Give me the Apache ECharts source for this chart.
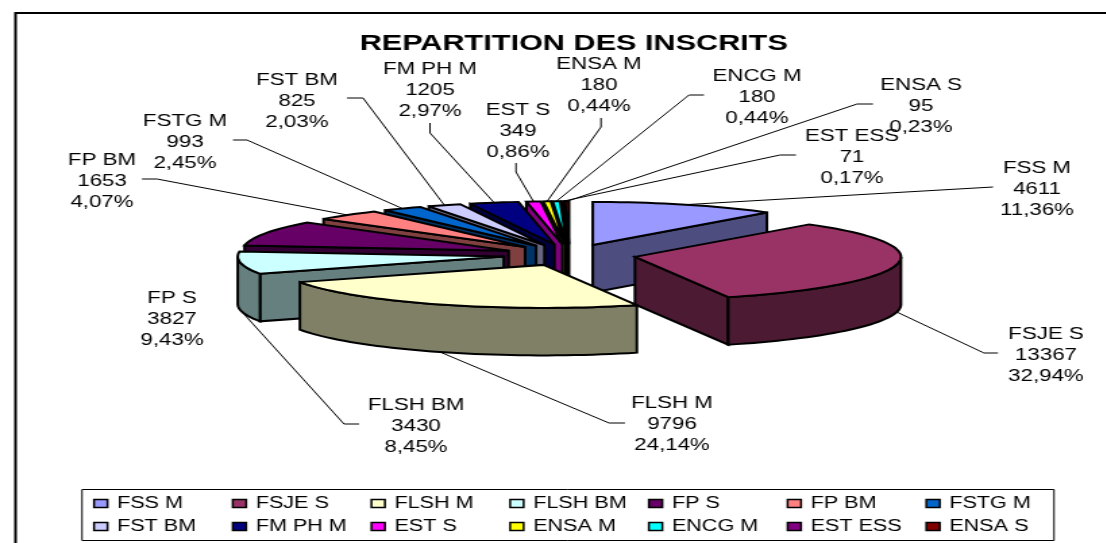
<!DOCTYPE html>
<html><head><meta charset="utf-8">
<style>html,body{margin:0;padding:0;background:#fff;overflow:hidden;width:1106px;height:543px}
#c{width:820px;height:543px;transform:scaleX(1.35);transform-origin:0 0}</style>
<script src="https://cdn.jsdelivr.net/npm/echarts@6/dist/echarts.min.js"></script>
</head><body><div id="c"></div>
<script>
const categories=['FSS M','FSJE S','FLSH M','FLSH BM','FP S','FP BM','FSTG M','FST BM','FM PH M','EST S','ENSA M','ENCG M','EST ESS','ENSA S'];
const students=[4611,13367,9796,3430,3827,1653,993,825,1205,349,180,180,71,95];
const percents=['11,36%','32,94%','24,14%','8,45%','9,43%','4,07%','2,45%','2,03%','2,97%','0,86%','0,44%','0,44%','0,17%','0,23%'];
const colors=['#9999FF','#993366','#FFFFCC','#CCFFFF','#660066','#FF8080','#0066CC','#CCCCFF','#000080','#FF00FF','#FFFF00','#00FFFF','#800080','#800000'];
// picture layout, in screen pixels
const labelCenters=[[1037,189],[1046,355],[672,424],[416,426],[172,319],[102,181],[185,142],[297,101],[430,90],[518,131],[599,85],[757,97],[852,157],[921,106]];
const leaderStarts=[[[993,187]],[[998,353],[984,353]],[[625,423],[609,423]],[[359,424],[344,424]],null,[[142,179],[157,179]],[[233,140],[247,140]],[[347,98],[363,98]],[[430,123],[430,133]],[[516,163],[516,172]],[[601,118],[601,127]],[[704,95],[689,95]],[[796,155],[780,155]],[[873,104],[857,104]]];
const paintOrder=[13,12,11,10,9,8,7,6,5,4,3,0,1,2];
const SX=1.35, X=x=>x/SX;
const cx=569.5, cy=255, Rx=266, Ry=43, depth=47.5, explode=0.25;
const total=students.reduce((a,b)=>a+b,0);
const rad=d=>d*Math.PI/180;
function shade(hex){const n=parseInt(hex.slice(1),16);const f=v=>Math.round(v*0.5);return `rgb(${f(n>>16&255)},${f(n>>8&255)},${f(n&255)})`;}
function angles(i){let s=0;for(let k=0;k<i;k++)s+=students[k];return [s/total*360,(s+students[i])/total*360];}
function apex(i){const [a,b]=angles(i),m=rad((a+b)/2);return [cx+explode*Rx*Math.sin(m),cy-explode*Ry*Math.cos(m)];}
function rim(i,deg,dz){const p=apex(i),t=rad(deg);return [X(p[0]+Rx*Math.sin(t)),p[1]-Ry*Math.cos(t)+(dz||0)];}
function arc(i,from,to,dz){const n=Math.max(2,Math.ceil((to-from)/2)),o=[];for(let k=0;k<=n;k++)o.push(rim(i,from+(to-from)*k/n,dz));return o;}
const edge={stroke:'#000',lineWidth:2,lineJoin:'miter',miterLimit:3};
function poly(points,fill){return {type:'polygon',shape:{points},style:Object.assign({fill},edge)};}
function renderSlice(params,api){
  const i=params.seriesIndex, v=api.value(0);
  const [a,b]=[angles(i)[0],angles(i)[0]+v/total*360];
  const p=apex(i),A=[X(p[0]),p[1]],Ad=[X(p[0]),p[1]+depth];
  const dark=shade(colors[i]),children=[];
  const sinA=Math.sin(rad(a)),sinB=Math.sin(rad(b));
  if(sinA<0)children.push(poly([A,rim(i,a),rim(i,a,depth),Ad],dark));
  if(sinB>0)children.push(poly([A,rim(i,b),rim(i,b,depth),Ad],dark));
  const f=Math.max(a,90),t=Math.min(b,270);
  if(t>f){children.push(poly(arc(i,f,t,0).concat(arc(i,f,t,depth).reverse()),dark));}
  children.push(poly([A].concat(arc(i,a,b,0)),colors[i]));
  return {type:'group',children};
}
function renderLabel(params,api){
  const i=api.value(0),ch=[];
  const [a,b]=angles(i),m=(a+b)/2,c=Math.cos(rad(m));
  if(leaderStarts[i]){
    const pts=leaderStarts[i].map(q=>[X(q[0]),q[1]]);
    pts.push(rim(i,m,c<0?depth:0));
    ch.push({type:'polyline',shape:{points:pts},style:{stroke:'#000',lineWidth:1,fill:null}});
  }
  ch.push({type:'text',x:X(labelCenters[i][0]),y:labelCenters[i][1],style:{
    text:categories[i]+'\n'+students[i]+'\n'+percents[i],
    font:'16.5px "Liberation Sans",Arial,sans-serif',fill:'#000',
    align:'center',verticalAlign:'middle',lineHeight:21}});
  return {type:'group',children:ch};
}
const series=categories.map((name,i)=>({
  type:'custom',name,coordinateSystem:'none',renderItem:renderSlice,
  data:[[students[i]]],z:2+paintOrder.indexOf(i),
  itemStyle:{color:colors[i]},animation:false,silent:true,clip:false
}));
series.push({type:'custom',name:'labels',coordinateSystem:'none',renderItem:renderLabel,
  data:categories.map((_,i)=>[i]),z:30,animation:false,silent:true,clip:false});
const chart=echarts.init(document.getElementById('c'),null,{width:820,height:543});
chart.setOption({
  animation:false,backgroundColor:'#fff',
  title:{text:'REPARTITION DES INSCRITS',left:X(567),top:27,textAlign:'center',
    textStyle:{fontFamily:'"Liberation Sans",Arial,sans-serif',fontWeight:'bold',fontSize:22.7,color:'#000'}},
  legend:{data:categories,left:X(93),top:492,width:745,orient:'horizontal',itemGap:0,itemWidth:10,itemHeight:8,
    icon:'rect',itemStyle:{borderColor:'#000',borderWidth:1.5},selectedMode:false,padding:0,
    textStyle:{fontFamily:'"Liberation Sans",Arial,sans-serif',fontSize:16,color:'#000',width:85,height:23,lineHeight:23,padding:[0,0,0,2]}},
  graphic:[
    {type:'rect',z:-1,silent:true,shape:{x:X(15.5),y:13,width:1000,height:800},style:{fill:'#fff',stroke:'#000',lineWidth:2}},
    {type:'rect',z:-1,silent:true,shape:{x:X(82),y:489.5,width:X(972),height:51},style:{fill:'#fff',stroke:'#000',lineWidth:1}}
  ],
  series
});
</script></body></html>
